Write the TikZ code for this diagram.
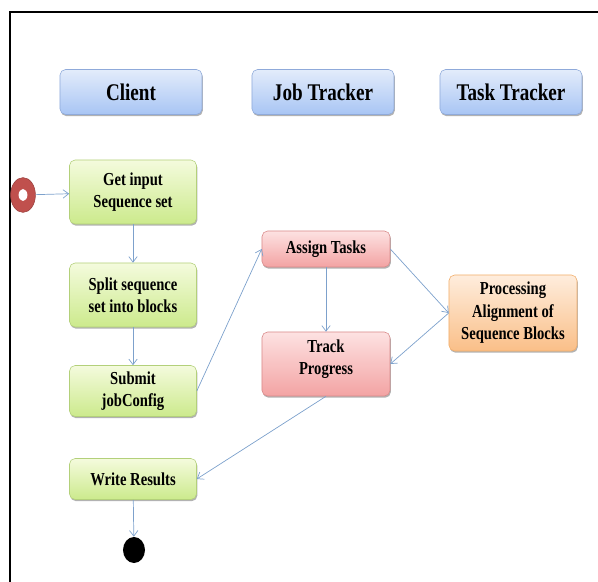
\documentclass[tikz,border=0pt]{standalone}
\usepackage{fontspec}
\setmainfont{Liberation Serif}
\newfontfamily\boxfont[FakeStretch=0.8]{Liberation Serif}
\usetikzlibrary{arrows.meta,shadows,shapes.geometric}

\definecolor{lanetop}{HTML}{E3ECFB}
\definecolor{lanebot}{HTML}{A8C5F4}
\definecolor{laneedge}{HTML}{8FAADA}
\definecolor{greentop}{HTML}{F4FBDD}
\definecolor{greenbot}{HTML}{CCEA8C}
\definecolor{greenedge}{HTML}{B3D07A}
\definecolor{redtop}{HTML}{FDE2E2}
\definecolor{redbot}{HTML}{F3A3A3}
\definecolor{rededge}{HTML}{D98A8A}
\definecolor{orangetop}{HTML}{FEEDDD}
\definecolor{orangebot}{HTML}{FABF88}
\definecolor{orangeedge}{HTML}{F2AE6A}
\definecolor{flowblue}{HTML}{7DA1CC}
\definecolor{ring}{HTML}{C0504D}

\begin{document}
\begin{tikzpicture}[x=0.025cm,y=-0.025cm,
    box/.style={rectangle,rounded corners=4pt,align=center,inner sep=2pt,
      font=\boxfont\fontsize{13}{16}\selectfont\bfseries,
      drop shadow={shadow xshift=0.6pt,shadow yshift=-1.2pt,opacity=0.3,fill=black}},
    lane node/.style={box,draw=laneedge,top color=lanetop,bottom color=lanebot,
      minimum width=3.55cm,minimum height=1.125cm,
      font=\boxfont\fontsize{17}{20}\selectfont\bfseries},
    client node/.style={box,draw=greenedge,top color=greentop,bottom color=greenbot,
      minimum width=3.175cm},
    job node/.style={box,draw=rededge,top color=redtop,bottom color=redbot,
      minimum width=3.2cm},
    task node/.style={box,draw=orangeedge,top color=orangetop,bottom color=orangebot,
      minimum width=3.2cm,minimum height=1.9cm},
    flow/.style={draw=flowblue,line width=0.5pt,-{Straight Barb[length=4pt,width=6pt]}}]
  \useasboundingbox (0,0) rectangle (598,582);
  \draw[line width=2pt] (598,12) -- (10,12) -- (10,582);

  % swimlane headers
  \node[lane node] (client) at (131,92) {Client};
  \node[lane node] (jobtracker) at (323,92) {Job Tracker};
  \node[lane node] (tasktracker) at (511,92) {Task Tracker};

  % client side
  \node[client node,minimum height=1.6cm] (getinput) at (133,192) {Get input\\Sequence set};
  \node[client node,minimum height=1.6cm] (split) at (133,295) {Split sequence\\set into blocks};
  \node[client node,minimum height=1.275cm] (submit) at (133,391) {Submit\\jobConfig};
  \node[client node,minimum height=1.025cm] (write) at (133,479) {Write Results};

  % job tracker
  \node[job node,minimum height=0.9cm] (assign) at (326,249) {Assign Tasks};
  \node[job node,minimum height=1.6cm,text depth=10pt] (track) at (326,364) {Track\\Progress};

  % task tracker
  \node[task node] (process) at (513,313) {Processing\\Alignment of\\Sequence Blocks};

  % start and end
  \node[ellipse,fill=ring,draw=ring!80!black,minimum width=0.62cm,minimum height=0.87cm,inner sep=0pt] (start) at (23,195) {};
  \fill[white] (start.center) ellipse [x radius=0.11cm,y radius=0.15cm];
  \node[ellipse,fill=black,minimum width=0.55cm,minimum height=0.65cm,inner sep=0pt] (stop) at (134,550) {};

  \draw[flow] (start) -- (getinput);
  \draw[flow] (getinput) -- (split);
  \draw[flow] (split) -- (submit);
  \draw[flow] (submit.east) -- (assign.west);
  \draw[flow] (assign) -- (track);
  \draw[flow] (assign.east) -- (process.west);
  \draw[flow] (process.west) -- (track.east);
  \draw[flow] (track.south) -- (write.east);
  \draw[flow] (write) -- (stop);
\end{tikzpicture}
\end{document}
